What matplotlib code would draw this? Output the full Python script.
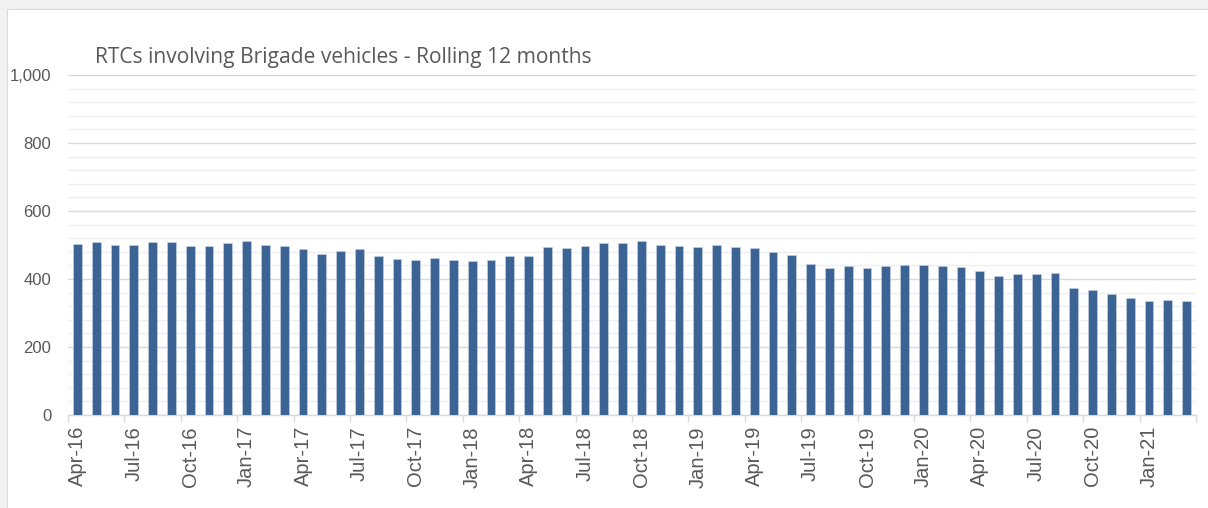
import matplotlib.pyplot as plt
from matplotlib.patches import Rectangle
from matplotlib.ticker import FixedLocator, FuncFormatter, MultipleLocator

# Rolling 12-month count of RTCs, Apr-16 to Mar-21
months = [
    "Apr-16", "May-16", "Jun-16", "Jul-16", "Aug-16", "Sep-16", "Oct-16", "Nov-16", "Dec-16",
    "Jan-17", "Feb-17", "Mar-17", "Apr-17", "May-17", "Jun-17", "Jul-17", "Aug-17", "Sep-17",
    "Oct-17", "Nov-17", "Dec-17", "Jan-18", "Feb-18", "Mar-18", "Apr-18", "May-18", "Jun-18",
    "Jul-18", "Aug-18", "Sep-18", "Oct-18", "Nov-18", "Dec-18", "Jan-19", "Feb-19", "Mar-19",
    "Apr-19", "May-19", "Jun-19", "Jul-19", "Aug-19", "Sep-19", "Oct-19", "Nov-19", "Dec-19",
    "Jan-20", "Feb-20", "Mar-20", "Apr-20", "May-20", "Jun-20", "Jul-20", "Aug-20", "Sep-20",
    "Oct-20", "Nov-20", "Dec-20", "Jan-21", "Feb-21", "Mar-21",
]
rtcs = [
    504, 510, 501, 501, 510, 510, 498, 498, 507,
    513, 501, 498, 487, 475, 481, 487, 469, 460,
    457, 463, 457, 454, 457, 469, 469, 495, 490,
    498, 507, 507, 513, 501, 498, 495, 501, 495,
    490, 478, 472, 445, 433, 439, 433, 439, 442,
    442, 439, 436, 424, 410, 416, 416, 419, 373,
    367, 356, 344, 335, 338, 335,
]

title = "RTCs involving Brigade vehicles - Rolling 12 months"
text_grey = "#595959"

fig = plt.figure(figsize=(12.08, 5.08), dpi=100, facecolor="#f2f2f2")
# white chart area inside the grey frame
fig.patches.append(Rectangle((7 / 1208, -0.01), 1.0, 1.01 - 9 / 508,
                             transform=fig.transFigure, facecolor="white",
                             edgecolor="#d9d9d9", linewidth=0.8, zorder=-10))

ax = fig.add_axes([68 / 1208, (508 - 415) / 508, (1196 - 68) / 1208, (415 - 75) / 508])
ax.set_facecolor("white")

x = list(range(len(months)))
ax.bar(x, rtcs, width=0.46, color="#3b6495", edgecolor="#c9d6e8", linewidth=0.4, zorder=3)

ax.set_xlim(-0.5, len(months) - 0.5)
ax.set_ylim(0, 1000)

# gridlines: heavier every 200, faint every 40
ax.yaxis.set_major_locator(MultipleLocator(200))
ax.yaxis.set_minor_locator(MultipleLocator(40))
ax.yaxis.set_major_formatter(FuncFormatter(lambda v, p: f"{int(v):,}"))
ax.grid(axis="y", which="major", color="#d9d9d9", linewidth=1.0, zorder=0)
ax.grid(axis="y", which="minor", color="#efefef", linewidth=1.0, zorder=0)
ax.tick_params(axis="y", which="both", length=0, pad=12, labelsize=12, labelcolor=text_grey)

# labels every quarter, tick marks on the quarter boundaries
ax.set_xticks(x[::3])
ax.set_xticklabels(months[::3], rotation=90, fontsize=14.5, color=text_grey)
ax.xaxis.set_minor_locator(FixedLocator([i - 0.5 for i in range(0, len(months) + 1, 3)]))
ax.tick_params(axis="x", which="major", length=0, pad=8)
ax.tick_params(axis="x", which="minor", length=5, color="#d9d9d9", width=1.0)

for side in ["top", "right", "left"]:
    ax.spines[side].set_visible(False)
ax.spines["bottom"].set_color("#d9d9d9")
ax.spines["bottom"].set_linewidth(1.0)

for lbl in ax.get_yticklabels():
    lbl.set_family("Liberation Sans")
for lbl in ax.get_xticklabels():
    lbl.set_family("Liberation Sans")

fig.text(95 / 1208, 1 - 57 / 508, title, fontsize=15.1, color=text_grey,
         family="Open Sans", va="center", ha="left")

fig.savefig("out.png", dpi=100, facecolor=fig.get_facecolor())
